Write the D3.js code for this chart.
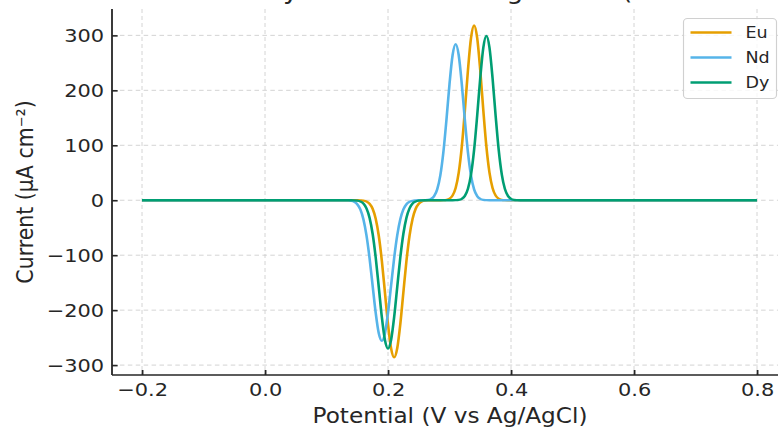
<!DOCTYPE html>
<html>
    <head>
        <meta charset="utf-8">
        <style>
            body { margin: 0; background: white; }
            svg text { font-family: "DejaVu Sans", sans-serif; fill: #262626; }
            .grid line { stroke: #cccccc; stroke-width: 0.8; stroke-dasharray: 4 3; }
            .axis path, .axis line { stroke: #262626; stroke-width: 1.6; }
            .courbe { fill: none; stroke-width: 2.3; stroke-linejoin: round; }
        </style>
    </head>
    <body>
        <div id="plateau"></div>
        <script src="https://cdn.jsdelivr.net/npm/d3@7"></script>
        <script>

//////////////////// donnees ////////////////////
const potential = [-0.2,
    0.13, 0.135, 0.14, 0.145, 0.15, 0.155, 0.16, 0.165, 0.17, 0.175,
    0.18, 0.185, 0.19, 0.195, 0.20, 0.205, 0.21, 0.215, 0.22, 0.225,
    0.23, 0.235, 0.24, 0.245, 0.25, 0.255, 0.26, 0.265, 0.27, 0.275,
    0.28, 0.285, 0.29, 0.295, 0.30, 0.305, 0.31, 0.315, 0.32, 0.325,
    0.33, 0.335, 0.34, 0.345, 0.35, 0.355, 0.36, 0.365, 0.37, 0.375,
    0.38, 0.385, 0.39, 0.395, 0.40, 0.405, 0.41, 0.415, 0.42,
    0.8];

const eu = [0,
    0, 0, 0, 0, 0, -0.2, -0.7, -2.3, -6.4, -15.5,
    -33.6, -64.6, -110.4, -167.6, -225.4, -269.4, -286, -269.4, -225.4, -167.6,
    -110.4, -64.6, -33.6, -15.5, -6.4, -2.3, -0.7, -0.2, 0, 0,
    0, 0, 0.2, 0.8, 2.8, 8.5, 22.2, 50.1, 97.4, 163.4,
    236.6, 295.3, 318, 295.3, 236.6, 163.4, 97.4, 50.1, 22.2, 8.5,
    2.8, 0.8, 0.2, 0, 0, 0, 0, 0, 0,
    0];

const nd = [0,
    0, -0.3, -1.0, -2.8, -7.3, -16.8, -34.6, -63.9, -105.2, -155.3,
    -205.0, -242.2, -256, -242.2, -205.0, -155.3, -105.2, -63.9, -34.6, -16.8,
    -7.3, -2.8, -1.0, -0.3, 0, 0, 0.2, 0.7, 2.5, 7.6,
    19.8, 44.7, 87.0, 145.9, 211.3, 263.8, 284, 263.8, 211.3, 145.9,
    87.0, 44.7, 19.8, 7.6, 2.5, 0.7, 0.2, 0, 0, 0,
    0, 0, 0, 0, 0, 0, 0, 0, 0,
    0];

const dy = [0,
    0, 0, 0, -0.2, -0.7, -2.2, -6.0, -14.7, -31.8, -61.0,
    -104.2, -158.2, -212.8, -254.3, -270, -254.3, -212.8, -158.2, -104.2, -61.0,
    -31.8, -14.7, -6.0, -2.2, -0.7, -0.2, 0, 0, 0, 0,
    0, 0, 0, 0, 0, 0, 0.2, 0.7, 2.6, 8.0,
    20.9, 47.1, 91.6, 153.7, 222.4, 277.7, 299, 277.7, 222.4, 153.7,
    91.6, 47.1, 20.9, 8.0, 2.6, 0.7, 0.2, 0, 0,
    0];

const series = ['Eu', 'Nd', 'Dy'];
const valeurs = [eu, nd, dy];
const couleurs = ['#E69F00', '#56B4E9', '#009E73'];

const x_ticks = [-0.2, 0.0, 0.2, 0.4, 0.6, 0.8];
const y_ticks = [-300, -200, -100, 0, 100, 200, 300];

const titre = 'Simulated Voltammetry of Ln Ions Using Model (Illustrative Data)';
const x_label = 'Potential (V vs Ag/AgCl)';
const y_label = 'Current (μA cm⁻²)';

//////////////////// position page ////////////////////
// la figure d'origine est un peu etiree en largeur
let W = 688, H = 428;
let SX = 778 / W;

let left = 112 / SX;
let top_ = 9;
let bottom = 375;

let x = d3.scaleLinear().domain([-0.25, 0.85]).range([111.25 / SX, 787.75 / SX]);
let y = d3.scaleLinear().domain([-318, 348]).range([bottom, top_]);

let svg = d3.select('#plateau').append('svg')
    .attr('width', 778)
    .attr('height', 428)
    .style('display', 'block')
    .attr('viewBox', `0 0 ${W} ${H}`)
    .attr('preserveAspectRatio', 'none');

// grille
let grille = svg.append('g').classed('grid', true);
x_ticks.forEach(t => {
    grille.append('line')
        .attr('x1', x(t)).attr('x2', x(t))
        .attr('y1', top_).attr('y2', bottom);
});
y_ticks.forEach(t => {
    grille.append('line')
        .attr('x1', left).attr('x2', W)
        .attr('y1', y(t)).attr('y2', y(t));
});

// courbes
let ligne = (vals) => d3.line()
    .x((d, i) => x(potential[i]))
    .y(d => y(d))
    .curve(d3.curveMonotoneX)(vals);

series.forEach((s, idx) => {
    svg.append('path')
        .classed('courbe', true)
        .attr('stroke', couleurs[idx])
        .attr('d', ligne(valeurs[idx]));
});

// axes
let axeX = svg.append('g')
    .classed('axis', true)
    .attr('transform', `translate(0, ${bottom})`)
    .call(d3.axisBottom(x).tickValues(x_ticks).tickFormat(d3.format('.1f'))
        .tickSizeInner(-5).tickSizeOuter(0).tickPadding(8.3));
axeX.select('.domain').attr('d', `M ${left} 0 H ${W}`);

let axeY = svg.append('g')
    .classed('axis', true)
    .attr('transform', `translate(${left}, 0)`)
    .call(d3.axisLeft(y).tickValues(y_ticks).tickFormat(d3.format('d'))
        .tickSizeInner(-5).tickSizeOuter(0).tickPadding(7));
axeY.select('.domain').attr('d', `M 0 ${top_} V ${bottom}`);

svg.selectAll('.axis text')
    .attr('font-family', '"DejaVu Sans", sans-serif')
    .attr('font-size', '18.5px')
    .attr('fill', '#262626')
    .text(function() { return d3.select(this).text().replace('-', '−'); });

// titres des axes
svg.append('text')
    .attr('x', 450 / SX)
    .attr('y', 423)
    .attr('text-anchor', 'middle')
    .attr('font-size', '20.5px')
    .text(x_label);

svg.append('text')
    .attr('transform', `translate(${32.5 / SX}, ${(top_ + bottom) / 2}) rotate(-90)`)
    .attr('text-anchor', 'middle')
    .attr('font-size', '20.5px')
    .text(y_label);

// titre (coupe en haut de l'image, seules les descendantes se voient)
let t = svg.append('text')
    .attr('x', 0)
    .attr('y', -1)
    .attr('font-size', '23px')
    .text(titre);
let iy = titre.indexOf('y'), ip = titre.indexOf('(');
let d_yp = t.node().getStartPositionOfChar(ip).x - t.node().getStartPositionOfChar(iy).x;
t.attr('font-size', (23 * (339 / SX) / d_yp) + 'px');
let pos_y = t.node().getStartPositionOfChar(iy).x;
t.attr('x', 283 / SX - pos_y);

// legende
let legende = svg.append('g').attr('transform', `translate(${683.5 / SX}, 18.5)`);
legende.append('rect')
    .attr('width', 93 / SX)
    .attr('height', 80)
    .attr('rx', 3.5)
    .attr('fill', 'white')
    .attr('fill-opacity', 0.8)
    .attr('stroke', '#d0d0d0')
    .attr('stroke-width', 1);

series.forEach((s, idx) => {
    let ly = 14 + idx * 25;
    legende.append('line')
        .attr('x1', 7 / SX).attr('x2', 48 / SX)
        .attr('y1', ly).attr('y2', ly)
        .attr('stroke', couleurs[idx])
        .attr('stroke-width', 2.3);
    legende.append('text')
        .attr('x', 62 / SX)
        .attr('y', ly + 5.5)
        .attr('font-size', '15.5px')
        .text(s);
});

        </script>
    </body>
</html>
